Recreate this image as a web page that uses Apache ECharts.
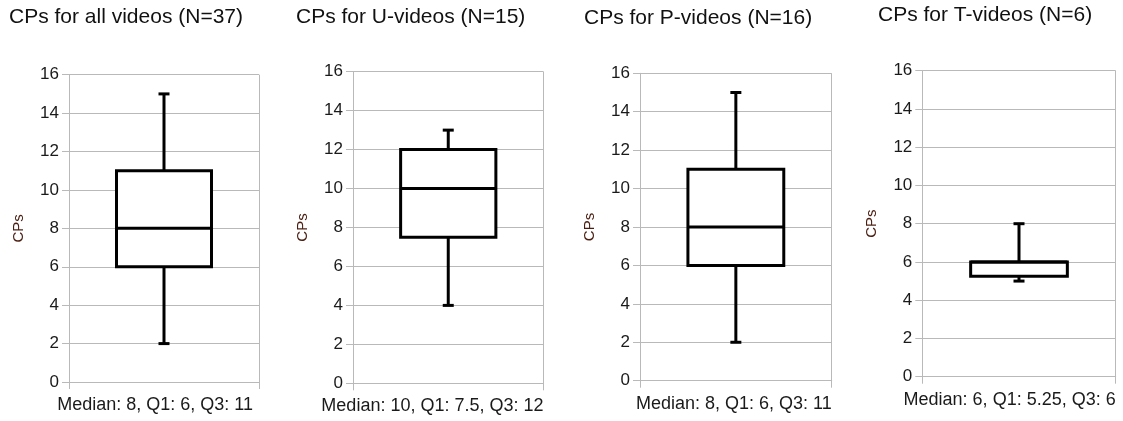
<!DOCTYPE html>
<html>
<head>
<meta charset="utf-8">
<script src="https://cdn.jsdelivr.net/npm/echarts@6/dist/echarts.min.js"></script>
<style>
  html, body { margin: 0; padding: 0; background: #fff; }
  #chart { width: 1123px; height: 421px; }
</style>
</head>
<body>
<div id="chart"></div>
<script>
// Five-number summaries of CPs per video group
const titles = [
  'CPs for all videos (N=37)',
  'CPs for U-videos (N=15)',
  'CPs for P-videos (N=16)',
  'CPs for T-videos (N=6)'
];
const summaries = [
  'Median: 8, Q1: 6, Q3: 11',
  'Median: 10, Q1: 7.5, Q3: 12',
  'Median: 8, Q1: 6, Q3: 11',
  'Median: 6, Q1: 5.25, Q3: 6'
];
const lows    = [2, 4, 2, 5];
const q1s     = [6, 7.5, 6, 5.25];
const medians = [8, 10, 8, 6];
const q3s     = [11, 12, 11, 6];
const highs   = [15, 13, 15, 8];
const yMin = 0, yMax = 16, yStep = 2;
const axisTitle = 'CPs';

// Panel placement (px)
const panels = [
  { left: 69,  top: 74.7, width: 190,   height: 307.3, titleX: 9,   titleY: 7, nameShift: -6 },
  { left: 353, top: 71.7, width: 190.5, height: 311.6, titleX: 296, titleY: 7, nameShift: 0 },
  { left: 640, top: 73.3, width: 191.7, height: 307.4, titleX: 584, titleY: 8, nameShift: 0 },
  { left: 922.3, top: 70.7, width: 193.4, height: 306, titleX: 878, titleY: 5, nameShift: 0 }
];

const FONT = 'Liberation Sans, Arial, sans-serif';
const GRID_GRAY = '#b9b9b9';

function renderBox(params, api) {
  const c = api.value(0);
  const lo = api.coord([c, api.value(1)]);
  const q1 = api.coord([c, api.value(2)]);
  const md = api.coord([c, api.value(3)]);
  const q3 = api.coord([c, api.value(4)]);
  const hi = api.coord([c, api.value(5)]);
  const band = api.size([1, 0])[0];
  const half = band * 0.25;
  const cap = 5.5;
  const cx = md[0];
  const stroke = { stroke: '#000', lineWidth: 3, fill: null, lineCap: 'butt' };
  return {
    type: 'group',
    children: [
      { type: 'line', shape: { x1: cx, y1: q3[1], x2: cx, y2: hi[1] }, style: stroke },
      { type: 'line', shape: { x1: cx - cap, y1: hi[1], x2: cx + cap, y2: hi[1] }, style: stroke },
      { type: 'line', shape: { x1: cx, y1: q1[1], x2: cx, y2: lo[1] }, style: stroke },
      { type: 'line', shape: { x1: cx - cap, y1: lo[1], x2: cx + cap, y2: lo[1] }, style: stroke },
      { type: 'rect', shape: { x: cx - half, y: q3[1], width: half * 2, height: q1[1] - q3[1] },
        style: { fill: '#fff', stroke: '#000', lineWidth: 3, lineJoin: 'miter' } },
      { type: 'line', shape: { x1: cx - half, y1: md[1], x2: cx + half, y2: md[1] }, style: stroke }
    ]
  };
}

const option = {
  backgroundColor: '#fff',
  animation: false,
  title: titles.map((t, i) => ({
    text: t,
    left: panels[i].titleX,
    top: panels[i].titleY,
    padding: 0,
    textStyle: { fontFamily: FONT, fontSize: 21, fontWeight: 'normal', color: '#111' }
  })),
  grid: panels.map(p => ({
    left: p.left, top: p.top, width: p.width, height: p.height,
    outerBoundsMode: 'none', containLabel: false
  })),
  xAxis: panels.map((p, i) => ({
    type: 'category',
    gridIndex: i,
    data: [summaries[i]],
    boundaryGap: true,
    axisLine: { show: true, lineStyle: { color: GRID_GRAY, width: 1 } },
    axisTick: { show: true, length: 7, lineStyle: { color: GRID_GRAY } },
    axisLabel: { show: false },
    splitLine: { show: true, lineStyle: { color: GRID_GRAY, width: 1 } },
    name: summaries[i],
    nameLocation: 'end',
    nameGap: p.nameShift,
    nameTextStyle: {
      fontFamily: FONT, fontSize: 18, color: '#1a1a1a',
      align: 'right', verticalAlign: 'top', padding: [14, 0, 0, 0]
    }
  })),
  yAxis: panels.map((p, i) => ({
    type: 'value',
    gridIndex: i,
    min: yMin, max: yMax, interval: yStep,
    axisLine: { show: true, lineStyle: { color: GRID_GRAY, width: 1 } },
    axisTick: { show: true, length: 7, lineStyle: { color: GRID_GRAY } },
    axisLabel: { fontFamily: FONT, fontSize: 17, color: '#1a1a1a', margin: 10 },
    splitLine: { show: true, lineStyle: { color: GRID_GRAY, width: 1 } },
    name: axisTitle,
    nameLocation: 'middle',
    nameGap: 43,
    nameTextStyle: { fontFamily: FONT, fontSize: 15, color: '#4a1d10' }
  })),
  series: panels.map((p, i) => ({
    type: 'custom',
    xAxisIndex: i,
    yAxisIndex: i,
    renderItem: renderBox,
    encode: { x: 0, y: [1, 2, 3, 4, 5] },
    data: [[0, lows[i], q1s[i], medians[i], q3s[i], highs[i]]],
    clip: false,
    z: 3
  }))
};

const chart = echarts.init(document.getElementById('chart'), null, { renderer: 'canvas' });
chart.setOption(option);
</script>
</body>
</html>
